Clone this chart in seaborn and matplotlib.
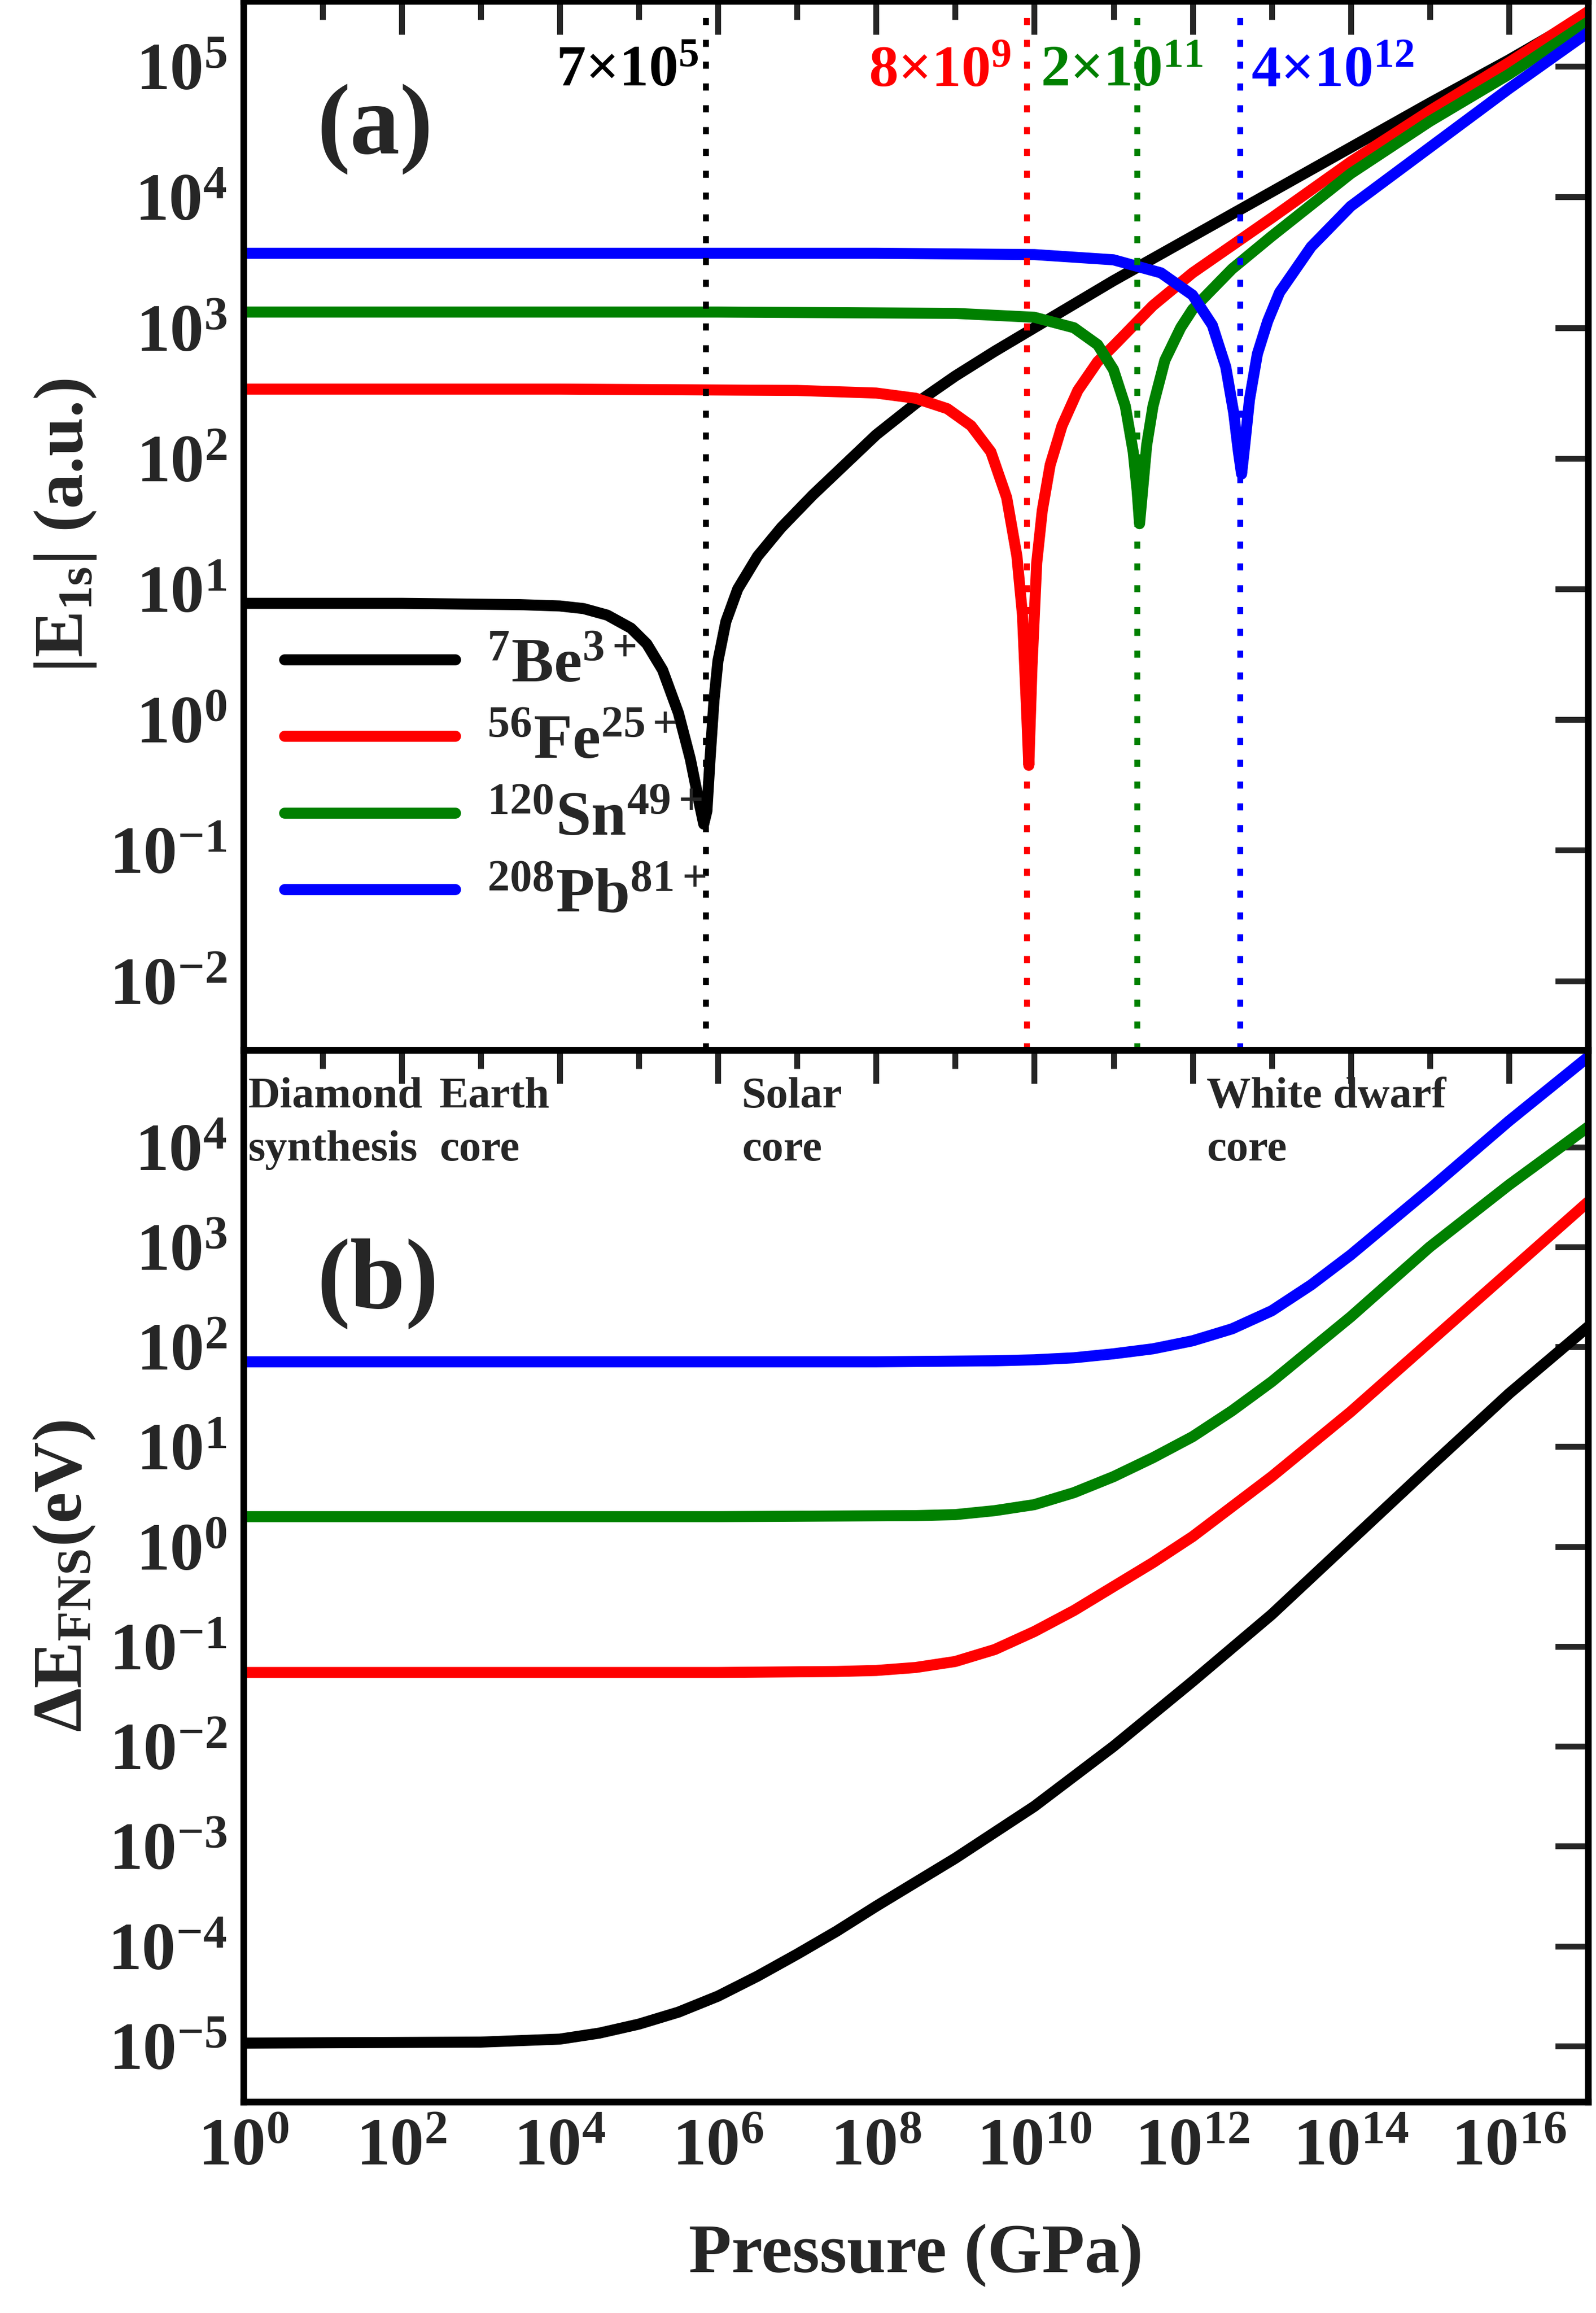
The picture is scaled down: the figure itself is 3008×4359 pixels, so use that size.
import matplotlib
matplotlib.use("Agg")
import matplotlib.pyplot as plt
import numpy as np
import pandas as pd
import seaborn as sns
from matplotlib.ticker import LogLocator, NullFormatter, FixedLocator

sns.set_theme(style="white")
plt.rcParams["font.family"] = ["Liberation Serif", "DejaVu Serif"]
plt.rcParams["mathtext.fontset"] = "custom"
plt.rcParams["mathtext.rm"] = "Liberation Serif:bold"
plt.rcParams["mathtext.it"] = "Liberation Serif:bold"
plt.rcParams["mathtext.bf"] = "Liberation Serif:bold"

ions = ["$^{7}$Be$^{3+}$", "$^{56}$Fe$^{25+}$", "$^{120}$Sn$^{49+}$", "$^{208}$Pb$^{81+}$"]
colors = ["black", "red", "green", "blue"]

# panel (a): log10 P, log10 |E1s|
a_be_x = [0, 2, 3.5, 4, 4.3, 4.6, 4.9, 5.1, 5.3, 5.5, 5.65, 5.75, 5.82, 5.86, 5.9, 5.95, 6.0, 6.1, 6.25, 6.5, 6.8, 7.2, 7.6, 8, 8.5, 9, 9.5, 10, 11, 12, 13, 14, 15, 16, 17]
a_be_y = [0.89, 0.89, 0.88, 0.87, 0.85, 0.8, 0.7, 0.58, 0.38, 0.05, -0.3, -0.6, -0.8, -0.7, -0.3, 0.15, 0.45, 0.75, 1.0, 1.25, 1.47, 1.72, 1.95, 2.18, 2.42, 2.63, 2.82, 3.0, 3.36, 3.7, 4.04, 4.38, 4.72, 5.05, 5.4]
a_fe_x = [0, 4, 7, 8, 8.5, 8.9, 9.2, 9.45, 9.65, 9.78, 9.85, 9.9, 9.93, 9.97, 10.03, 10.1, 10.2, 10.35, 10.55, 10.8, 11, 11.5, 12, 13, 14, 15, 16, 17]
a_fe_y = [2.53, 2.53, 2.52, 2.5, 2.46, 2.38, 2.25, 2.05, 1.7, 1.25, 0.8, 0.1, -0.35, 0.4, 1.2, 1.6, 1.95, 2.25, 2.52, 2.74, 2.86, 3.17, 3.42, 3.84, 4.27, 4.66, 5.03, 5.42]
a_sn_x = [0, 6, 9, 10, 10.5, 10.8, 11.0, 11.15, 11.25, 11.3, 11.33, 11.36, 11.42, 11.5, 11.65, 11.85, 12, 12.5, 13, 14, 15, 16, 17]
a_sn_y = [3.12, 3.12, 3.11, 3.08, 3.0, 2.87, 2.68, 2.4, 2.05, 1.75, 1.5, 1.7, 2.1, 2.4, 2.75, 3.0, 3.14, 3.45, 3.7, 4.18, 4.58, 4.94, 5.34]
a_pb_x = [0, 8, 10, 11, 11.6, 12.0, 12.25, 12.42, 12.52, 12.58, 12.62, 12.66, 12.72, 12.82, 12.95, 13.1, 13.5, 14, 15, 16, 17]
a_pb_y = [3.57, 3.57, 3.56, 3.52, 3.42, 3.25, 3.02, 2.7, 2.35, 2.05, 1.88, 2.1, 2.45, 2.8, 3.05, 3.27, 3.62, 3.93, 4.38, 4.83, 5.26]

# panel (b): log10 P, log10 dE_FNS
b_be_x = [0, 3, 4, 4.5, 5, 5.5, 6, 6.5, 7, 7.5, 8, 9, 10, 11, 12, 13, 14, 15, 16, 17]
b_be_y = [-4.97, -4.96, -4.93, -4.87, -4.78, -4.66, -4.5, -4.3, -4.08, -3.85, -3.6, -3.12, -2.6, -2.0, -1.35, -0.68, 0.06, 0.8, 1.53, 2.2]
b_fe_x = [0, 6, 7.5, 8, 8.5, 9, 9.5, 10, 10.5, 11, 11.5, 12, 13, 14, 15, 16, 17]
b_fe_y = [-1.26, -1.26, -1.25, -1.24, -1.21, -1.15, -1.03, -0.85, -0.64, -0.4, -0.16, 0.1, 0.7, 1.35, 2.05, 2.75, 3.45]
b_sn_x = [0, 6, 8.5, 9, 9.5, 10, 10.5, 11, 11.5, 12, 12.5, 13, 14, 15, 16, 17]
b_sn_y = [0.3, 0.3, 0.31, 0.32, 0.36, 0.42, 0.54, 0.7, 0.89, 1.1, 1.36, 1.65, 2.3, 3.0, 3.62, 4.2]
b_pb_x = [0, 8, 9.5, 10, 10.5, 11, 11.5, 12, 12.5, 13, 13.5, 14, 15, 16, 17]
b_pb_y = [1.85, 1.85, 1.86, 1.87, 1.89, 1.93, 1.98, 2.06, 2.18, 2.36, 2.62, 2.92, 3.58, 4.26, 4.9]

crit_p = [7e5, 8e9, 2e11, 4e12]
crit_labels = [r"7$\times$10$^{5}$", r"8$\times$10$^{9}$", r"2$\times$10$^{11}$", r"4$\times$10$^{12}$"]
crit_label_x = [9e3, 8e7, 1.2e10, 5.5e12]
regions = ["Diamond\nsynthesis", "Earth\ncore", "Solar\ncore", "White dwarf\ncore"]
region_x = [1.15, 3e2, 2e6, 1.5e12]


def frame(xs, ys):
    return pd.DataFrame({"P": 10.0 ** np.array(xs), "E": 10.0 ** np.array(ys)})


fig = plt.figure(figsize=(30.08, 43.59), dpi=100)
ax1 = fig.add_axes([0.1525, 0.546, 0.8425, 0.4535])
ax2 = fig.add_axes([0.1525, 0.0912, 0.8425, 0.4548], sharex=ax1)

for i, (xs, ys) in enumerate([(a_be_x, a_be_y), (a_fe_x, a_fe_y), (a_sn_x, a_sn_y), (a_pb_x, a_pb_y)]):
    sns.lineplot(data=frame(xs, ys), x="P", y="E", ax=ax1, color=colors[i], lw=15, label=ions[i], sort=False)
for i, (xs, ys) in enumerate([(b_be_x, b_be_y), (b_fe_x, b_fe_y), (b_sn_x, b_sn_y), (b_pb_x, b_pb_y)]):
    sns.lineplot(data=frame(xs, ys), x="P", y="E", ax=ax2, color=colors[i], lw=15, sort=False)

for p, lab, lx, c in zip(crit_p, crit_labels, crit_label_x, colors):
    ax1.axvline(p, color=c, ls=(0, (1.2, 2.5)), lw=8)
    ax1.text(lx, 10 ** 4.85, lab, color=c, fontsize=80, fontweight="bold", va="baseline")

ax1.set_xscale("log")
ax1.set_yscale("log")
ax2.set_yscale("log")
ax1.set_xlim(1, 1e17)
ax1.set_ylim(10 ** -2.53, 10 ** 5.5)
ax2.set_ylim(10 ** -5.56, 10 ** 4.97)

for ax in (ax1, ax2):
    ax.xaxis.set_major_locator(FixedLocator([10.0 ** k for k in range(0, 18, 2)]))
    ax.xaxis.set_minor_locator(FixedLocator([10.0 ** k for k in range(1, 18, 2)]))
    ax.xaxis.set_minor_formatter(NullFormatter())
    ax.yaxis.set_major_locator(LogLocator(base=10, numticks=30))
    ax.yaxis.set_minor_locator(FixedLocator([]))
    ax.tick_params(which="major", direction="in", length=45, width=8, top=True, right=True, labelsize=92, pad=22)
    ax.tick_params(which="minor", direction="in", length=25, width=8, top=True, right=True)
    for s in ax.spines.values():
        s.set_linewidth(9)
        s.set_color("black")
    ax.set_xlabel("")
    ax.set_ylabel("")
    for t in ax.get_yticklabels() + ax.get_xticklabels():
        t.set_fontweight("bold")

ax1.tick_params(labelbottom=False)
ax1.set_ylabel(r"|E$_{\mathregular{1s}}$| (a.u.)", fontsize=95, fontweight="bold", labelpad=15)
ax2.set_ylabel(r"$\Delta$E$_{\mathregular{FNS}}$(eV)", fontsize=95, fontweight="bold", labelpad=15)
ax2.set_xlabel("Pressure (GPa)", fontsize=95, fontweight="bold", labelpad=60)

ax1.text(0.055, 0.855, "(a)", transform=ax1.transAxes, fontsize=135, fontweight="bold")
ax2.text(0.055, 0.755, "(b)", transform=ax2.transAxes, fontsize=135, fontweight="bold")

for rx, rt in zip(region_x, regions):
    ax2.text(rx, 10 ** 4.7, rt, fontsize=60, fontweight="bold", va="top", linespacing=1.45)

leg = ax1.legend(loc="lower left", bbox_to_anchor=(-0.012, 0.065), frameon=False, fontsize=86,
                 handlelength=2.7, labelspacing=0.3, handletextpad=0.5)
for t in leg.get_texts():
    t.set_fontweight("bold")

fig.savefig("out.png", dpi=100)
